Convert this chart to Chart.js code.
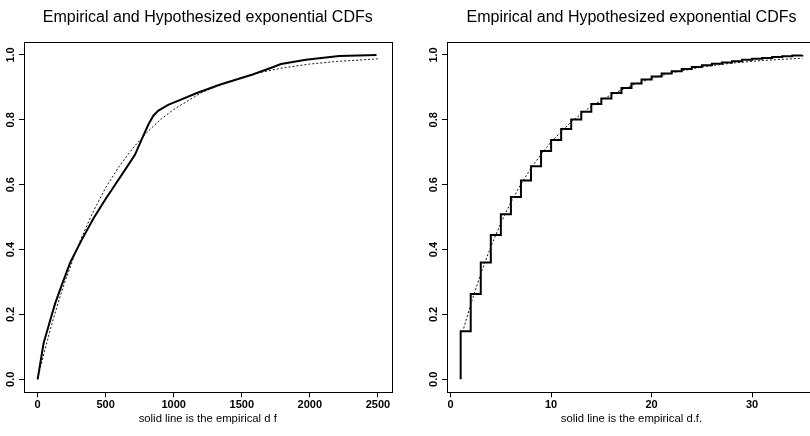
<!DOCTYPE html>
<html>
<head>
<meta charset="utf-8">
<script src="https://cdn.jsdelivr.net/npm/chart.js@4.4.1/dist/chart.umd.min.js"></script>
<style>
  html, body { margin: 0; padding: 0; background: #fff; overflow: hidden; width: 810px; height: 436px; }
  #left { position: absolute; left: 0; top: 0; }
  #right { position: absolute; left: 405px; top: 0; }
</style>
</head>
<body>
<canvas id="left" width="405" height="436"></canvas>
<canvas id="right" width="411" height="436"></canvas>
<script>
var titleText = 'Empirical and Hypothesized exponential CDFs';

// left panel: empirical d.f. (solid) and fitted exponential (dotted)
var leftEmpX = [0, 44, 93, 129, 178, 239, 324, 410, 495, 568, 641, 715, 763, 812, 849, 885, 959, 1044, 1166, 1337, 1580, 1727, 1788, 1971, 2215, 2490];
var leftEmpY = [0, 0.111, 0.183, 0.234, 0.291, 0.36, 0.43, 0.496, 0.553, 0.599, 0.645, 0.692, 0.738, 0.784, 0.812, 0.828, 0.846, 0.861, 0.882, 0.908, 0.940, 0.962, 0.972, 0.985, 0.997, 1.0];
var leftHypX = [0, 25, 50, 100, 150, 200, 300, 400, 500, 600, 700, 800, 900, 1000, 1200, 1400, 1600, 1800, 2000, 2200, 2500];
var leftHypY = [0, 0.044, 0.085, 0.164, 0.235, 0.300, 0.415, 0.510, 0.591, 0.657, 0.713, 0.760, 0.800, 0.832, 0.883, 0.918, 0.943, 0.960, 0.972, 0.980, 0.988];

// right panel: step empirical d.f. and fitted exponential
var rightEmpX = [1, 1, 2, 3, 4, 5, 6, 7, 8, 9, 10, 11, 12, 13, 14, 15, 16, 17, 18, 19, 20, 21, 22, 23, 24, 25, 26, 27, 28, 29, 30, 31, 32, 33, 34, 35];
var rightEmpY = [0, 0.148, 0.263, 0.360, 0.445, 0.509, 0.562, 0.613, 0.657, 0.704, 0.738, 0.772, 0.801, 0.825, 0.849, 0.866, 0.883, 0.898, 0.912, 0.924, 0.934, 0.943, 0.950, 0.957, 0.963, 0.968, 0.973, 0.977, 0.981, 0.985, 0.988, 0.991, 0.994, 0.996, 0.998, 1.0];
var rightHypX = [1.3, 2, 3, 4, 5, 6, 7, 8, 9, 10, 12, 14, 16, 18, 20, 22, 25, 28, 31, 35];
var rightHypY = [0.157, 0.231, 0.326, 0.409, 0.482, 0.546, 0.602, 0.651, 0.694, 0.732, 0.794, 0.842, 0.878, 0.906, 0.928, 0.945, 0.963, 0.975, 0.983, 0.990];

var yTicks = [0, 0.2, 0.4, 0.6, 0.8, 1.0];
var leftXTicks = [0, 500, 1000, 1500, 2000, 2500];
var rightXTicks = [0, 10, 20, 30];

Chart.defaults.font.family = "'Liberation Sans', Arial, sans-serif";
Chart.defaults.color = '#000';

function pts(xs, ys) {
    return xs.map(function (x, i) { return { x: x, y: ys[i] }; });
}

// box around the plot region
var frame = {
    id: 'frame',
    afterDatasetsDraw: function (chart) {
        var a = chart.chartArea, c = chart.ctx;
        c.save();
        c.strokeStyle = '#000';
        c.lineWidth = 1;
        c.strokeRect(Math.round(a.left) + 0.5, Math.round(a.top) + 0.5, Math.round(a.right - a.left), Math.round(a.bottom - a.top));
        c.restore();
    }
};

function build(id, emp, hyp, stepped, xMin, xMax, xTicks, xTitle, yWidth, padRight) {
    var ctx = document.getElementById(id).getContext('2d');
    return new Chart(ctx, {
        type: 'line',
        data: {
            datasets: [{
                data: hyp,
                borderColor: '#111',
                borderWidth: 1,
                borderDash: [2, 2],
                pointRadius: 0,
                fill: false
            }, {
                data: emp,
                borderColor: '#000',
                borderWidth: 2,
                stepped: stepped ? 'before' : false,
                pointRadius: 0,
                fill: false
            }]
        },
        plugins: [frame],
        options: {
            responsive: false,
            animation: false,
            devicePixelRatio: 1,
            layout: { padding: { left: 0, right: padRight, top: 0, bottom: 0 } },
            plugins: {
                legend: { display: false },
                tooltip: { enabled: false },
                title: {
                    display: true,
                    text: titleText,
                    fullSize: false,
                    color: '#000',
                    font: { size: 16, weight: 'normal' },
                    padding: { top: 8, bottom: 14.8 }
                }
            },
            scales: {
                x: {
                    type: 'linear',
                    min: xMin,
                    max: xMax,
                    afterBuildTicks: function (s) { s.ticks = xTicks.map(function (v) { return { value: v }; }); },
                    afterFit: function (s) { s.height = 43.7; },
                    ticks: {
                        color: '#000',
                        font: { size: 11, weight: 'bold' },
                        padding: 1,
                        maxRotation: 0,
                        autoSkip: false,
                        callback: function (v) { return String(v); }
                    },
                    grid: { drawOnChartArea: false, drawTicks: true, tickLength: 5, color: '#000' },
                    border: { display: true, color: '#000' },
                    title: {
                        display: true,
                        text: xTitle,
                        color: '#000',
                        font: { size: 11.3 },
                        padding: { top: 0, bottom: 10 }
                    }
                },
                y: {
                    type: 'linear',
                    min: -0.04,
                    max: 1.04,
                    afterBuildTicks: function (s) { s.ticks = yTicks.map(function (v) { return { value: v }; }); },
                    afterFit: function (s) { s.width = yWidth; },
                    ticks: {
                        color: '#000',
                        font: { size: 11, weight: 'bold' },
                        minRotation: 90,
                        maxRotation: 90,
                        crossAlign: 'center',
                        padding: 0,
                        autoSkip: false,
                        callback: function (v) { return v.toFixed(1); }
                    },
                    grid: { drawOnChartArea: false, drawTicks: true, tickLength: 5, color: '#000' },
                    border: { display: true, color: '#000' }
                }
            }
        }
    });
}

build('left', pts(leftEmpX, leftEmpY), pts(leftHypX, leftHypY), false,
      -100, 2600, leftXTicks, 'solid line is the empirical d f', 24, 13.5);
build('right', pts(rightEmpX, rightEmpY), pts(rightHypX, rightHypY), true,
      -0.36, 36.36, rightXTicks, 'solid line is the empirical d.f.', 42, 0);
</script>
</body>
</html>
